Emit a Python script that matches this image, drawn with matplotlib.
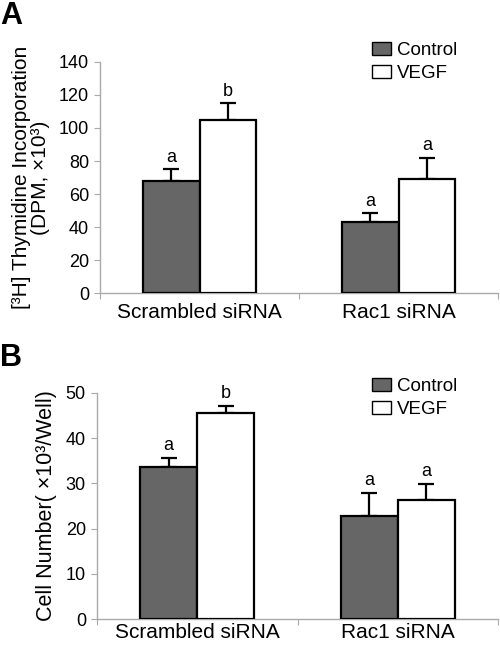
import matplotlib
matplotlib.use("Agg")
import matplotlib.pyplot as plt
import numpy as np
from matplotlib.patches import Patch

plt.rcParams['font.family'] = ['Liberation Sans', 'DejaVu Sans']

categories = ["Scrambled siRNA", "Rac1 siRNA"]
series = ["Control", "VEGF"]
colors = ["#666666", "#ffffff"]

a_control = [68, 43]
a_control_err = [7, 5.5]
a_vegf = [105, 69]
a_vegf_err = [10, 13]
a_letters_control = ["a", "a"]
a_letters_vegf = ["b", "a"]

b_control = [33.6, 22.8]
b_control_err = [2.0, 5.1]
b_vegf = [45.6, 26.3]
b_vegf_err = [1.5, 3.6]
b_letters_control = ["a", "a"]
b_letters_vegf = ["b", "a"]

fig = plt.figure(figsize=(5, 6.45), dpi=100)

def panel(rect, ctrl, ctrl_err, vegf, vegf_err, lc, lv, ymax, ystep, ylabel, ylsize, letter_off, leg_x, leg_y, xpad):
    ax = fig.add_axes(rect)
    x = np.arange(len(categories))
    w = 0.285
    ax.bar(x - w/2, ctrl, w, color=colors[0], edgecolor="black", linewidth=1.6, zorder=3)
    ax.bar(x + w/2, vegf, w, color=colors[1], edgecolor="black", linewidth=1.6, zorder=3)
    ax.errorbar(x - w/2, ctrl, yerr=[np.zeros(len(ctrl)), ctrl_err], fmt="none",
                ecolor="black", elinewidth=1.6, capsize=6, capthick=1.6, zorder=2)
    ax.errorbar(x + w/2, vegf, yerr=[np.zeros(len(vegf)), vegf_err], fmt="none",
                ecolor="black", elinewidth=1.6, capsize=6, capthick=1.6, zorder=2)
    for i in range(len(categories)):
        ax.text(x[i] - w/2, ctrl[i] + ctrl_err[i] + letter_off, lc[i], ha="center", va="bottom", fontsize=13)
        ax.text(x[i] + w/2, vegf[i] + vegf_err[i] + letter_off, lv[i], ha="center", va="bottom", fontsize=13)
    ax.set_xlim(-0.5, 1.5)
    ax.set_ylim(0, ymax)
    ax.set_yticks(np.arange(0, ymax + 0.1, ystep))
    ax.set_xticks([-0.5, 0.5, 1.5])
    ax.set_xticklabels([])
    ax.set_xticks(x, minor=True)
    ax.set_xticklabels(categories, minor=True, fontsize=15)
    ax.tick_params(axis="x", which="minor", length=0, pad=xpad)
    ax.tick_params(axis="x", which="major", length=4, color="#aaaaaa")
    ax.tick_params(axis="y", length=4, color="#aaaaaa", labelsize=13, pad=4)
    for s in ["top", "right"]:
        ax.spines[s].set_visible(False)
    for s in ["left", "bottom"]:
        ax.spines[s].set_color("#aaaaaa")
        ax.spines[s].set_linewidth(1.0)
    ax.set_ylabel(ylabel, fontsize=ylsize, labelpad=6, linespacing=1.05)
    handles = [Patch(facecolor=colors[0], edgecolor="black", linewidth=1.0),
               Patch(facecolor=colors[1], edgecolor="black", linewidth=1.0)]
    ax.legend(handles, series, loc="upper left", bbox_to_anchor=(leg_x, leg_y), frameon=False,
              fontsize=13.5, handlelength=1.0, handleheight=0.7, handletextpad=0.35, labelspacing=0.3,
              borderaxespad=0, borderpad=0)
    return ax

axA = panel([0.2, 0.5457, 0.796, 0.3582], a_control, a_control_err, a_vegf, a_vegf_err,
            a_letters_control, a_letters_vegf, 140, 20,
            "[³H] Thymidine Incorporation\n(DPM, ×10³)", 15, 2, 0.683, 1.085, 7)
axB = panel([0.194, 0.0403, 0.802, 0.3504], b_control, b_control_err, b_vegf, b_vegf_err,
            b_letters_control, b_letters_vegf, 50, 10,
            "Cell Number( ×10³/Well)", 15.5, 0.8, 0.686, 1.065, 3)

fig.text(0.0, 0.998, "A", fontsize=22, fontweight="bold", ha="left", va="top")
fig.text(0.0, 0.468, "B", fontsize=22, fontweight="bold", ha="left", va="top")

fig.savefig("out.png", dpi=100)
